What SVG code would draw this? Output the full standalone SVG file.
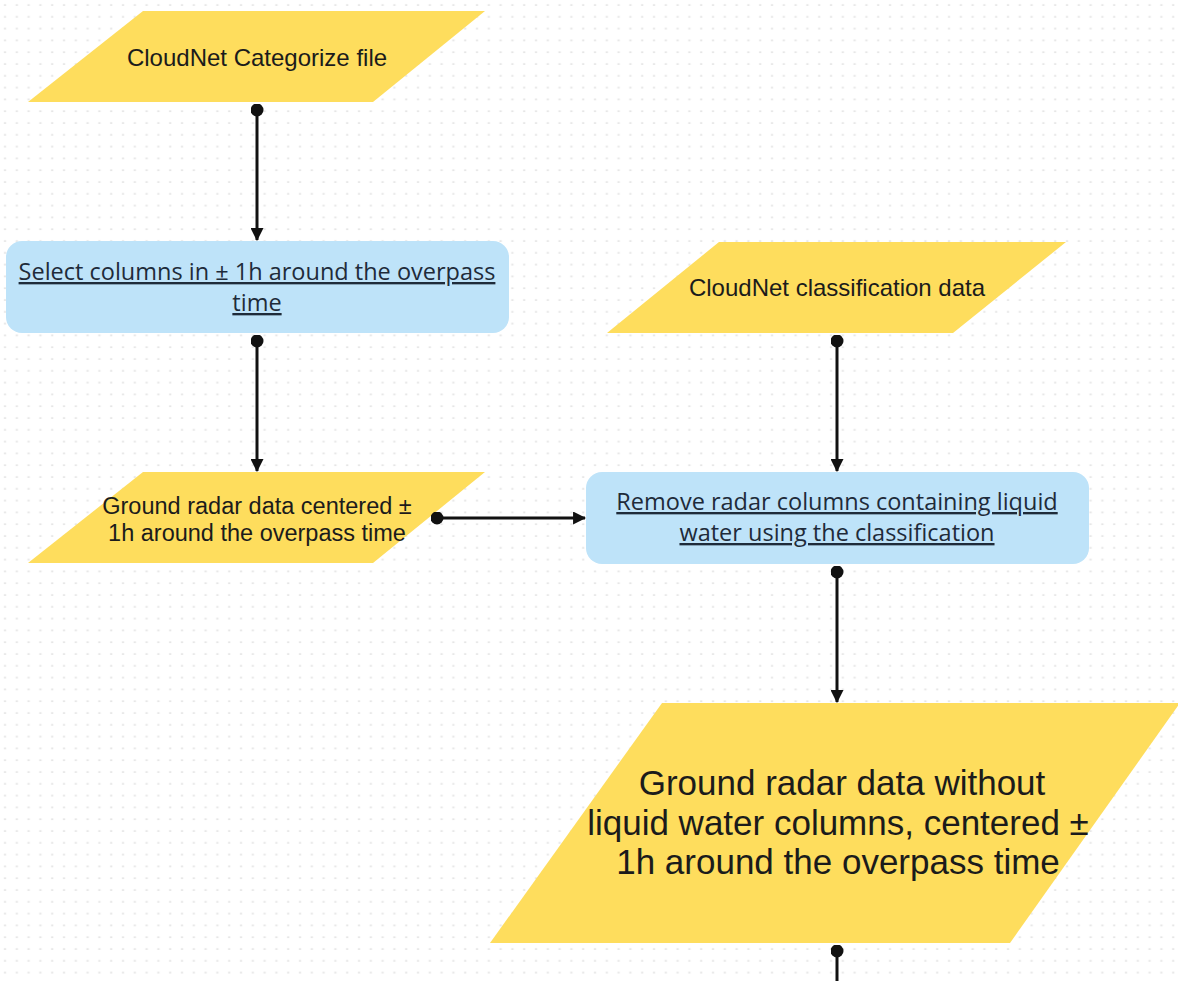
<svg xmlns="http://www.w3.org/2000/svg" width="1178" height="981" viewBox="0 0 1178 981">
<defs>
<pattern id="dots" x="0" y="0" width="11.8" height="11.8" patternUnits="userSpaceOnUse">
<ellipse cx="5" cy="5" rx="1.4" ry="0.9" fill="#e3e3e3"/>
</pattern>
<marker id="arrow" viewBox="0 0 12 12" refX="11" refY="6" markerWidth="13" markerHeight="13" markerUnits="userSpaceOnUse" orient="auto">
<path d="M0,0 L12,6 L0,12 Z" fill="#111"/>
</marker>
<marker id="dot" viewBox="0 0 14 14" refX="7" refY="7" markerWidth="13" markerHeight="13" markerUnits="userSpaceOnUse" orient="auto">
<circle cx="7" cy="7" r="7" fill="#111"/>
</marker>
</defs>
<style>
.data{fill:#fedd5d;}
.proc{fill:#bee3f9;}
.yt{font-family:"Liberation Sans","DejaVu Sans",sans-serif;fill:#1b1b1b;text-anchor:middle;}
.bt{font-family:"Open Sans","Liberation Sans",sans-serif;fill:#1e2b3a;text-anchor:middle;text-decoration:underline;font-size:23.5px;}
.conn{stroke:#111;stroke-width:3;fill:none;marker-start:url(#dot);}
.arr{marker-end:url(#arrow);}
</style>
<rect width="1178" height="981" fill="#ffffff"/>
<rect width="1178" height="981" fill="url(#dots)"/>

<g id="n1">
<polygon class="data" points="143,11 485,11 373,102 28,102"/>
<text class="yt" x="257" y="66" font-size="24">CloudNet Categorize file</text>
</g>

<g id="n2">
<rect class="proc" x="6" y="241" width="503" height="92" rx="16"/>
<text class="bt" x="257" y="280">Select columns in ± 1h around the overpass</text>
<text class="bt" x="257" y="311">time</text>
</g>

<g id="n3">
<polygon class="data" points="143,472 485,472 373,563 28,563"/>
<text class="yt" x="257" y="514" font-size="23.5">Ground radar data centered ±</text>
<text class="yt" x="257" y="541" font-size="23.5">1h around the overpass time</text>
</g>

<g id="n4">
<polygon class="data" points="719,242 1066,242 953,333 607,333"/>
<text class="yt" x="837" y="296" font-size="24">CloudNet classification data</text>
</g>

<g id="n5">
<rect class="proc" x="586" y="472" width="503" height="92" rx="16"/>
<text class="bt" x="837" y="510">Remove radar columns containing liquid</text>
<text class="bt" x="837" y="541">water using the classification</text>
</g>

<g id="n6">
<polygon class="data" points="662,703 1180,703 1010,943 490,943"/>
<text class="yt" x="842" y="795" font-size="35">Ground radar data without</text>
<text class="yt" x="838" y="835" font-size="35">liquid water columns, centered ±</text>
<text class="yt" x="838" y="874" font-size="35">1h around the overpass time</text>
</g>

<g id="connectors">
<path class="conn arr" d="M257,110 L257,240"/>
<path class="conn arr" d="M257,341 L257,471"/>
<path class="conn arr" d="M437,518 L585,518"/>
<path class="conn arr" d="M837,341 L837,471"/>
<path class="conn arr" d="M837,572 L837,702"/>
<path class="conn" d="M837,951 L837,985"/>
</g>
</svg>
